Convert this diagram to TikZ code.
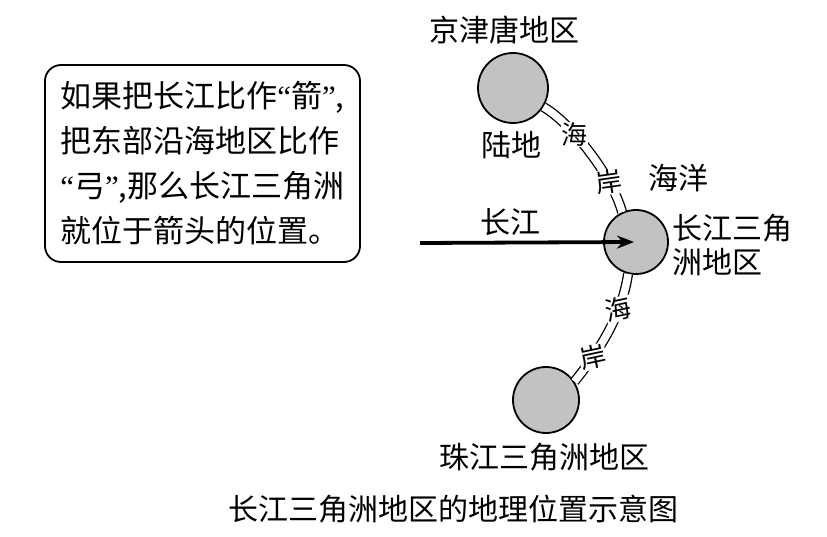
\documentclass[tikz,border=0pt]{standalone}
\usepackage{fontspec}
\newfontfamily\cjk{Noto Sans CJK SC}
\newfontfamily\qfont{Liberation Serif}
\newcommand{\openq}{{\qfont “}}
\newcommand{\closeq}{{\qfont ”}}
\usetikzlibrary{arrows.meta}

\tikzset{
  land/.style={circle, draw=black, line width=1.8pt, fill=gray!48, inner sep=0pt},
  coast/.style={double=white, double distance=7.5pt, line width=1.3pt},
  coastch/.style={fill=white, inner sep=0.5pt, font=\cjk\fontsize{26}{26}\selectfont},
  lbl/.style={font=\cjk\fontsize{30}{34}\selectfont, inner sep=0pt},
  river/.style={line width=3.8pt, -{Stealth[length=17pt,width=13pt]}}
}

\begin{document}
\begin{tikzpicture}[x=1pt, y=1pt]

  \useasboundingbox (0,0) rectangle (827,-537);

  % note box
  \node[draw, line width=1.8pt, rounded corners=16pt, minimum width=315pt, minimum height=197pt,
        align=left, inner sep=12pt, font=\cjk\fontsize{31}{45}\selectfont] (note) at (202.5,-163.5)
    {如果把长江比作\openq 箭\closeq,\\把东部沿海地区比作\\\openq 弓\closeq,那么长江三角洲\\就位于箭头的位置。};

  % land areas
  \node[land, minimum size=70pt] (jjt) at (513,-88) {};
  \node[land, minimum size=64pt] (csj) at (636,-242) {};
  \node[land, minimum size=66pt] (zsj) at (546,-400) {};

  % coast lines
  \draw[coast] (jjt.-32) .. controls (570,-122) and (612,-175) .. (csj.115)
    node[coastch, pos=0.35, rotate=0] (hai1) {海}
    node[coastch, pos=0.75, rotate=8] (an1) {岸};
  \draw[coast] (csj.-104) .. controls (622,-315) and (600,-350) .. (zsj.33)
    node[coastch, pos=0.3, rotate=12] (hai2) {海}
    node[coastch, pos=0.75, rotate=12] (an2) {岸};

  % river arrow
  \coordinate (cjsrc) at (420,-243);
  \draw[river] (cjsrc) -- ([xshift=-2pt]csj.center);

  % labels
  \node[lbl] (jjtlbl) at (504,-30) {京津唐地区};
  \node[lbl] (ludi) at (511,-145) {陆地};
  \node[lbl] (haiyang) at (678,-178) {海洋};
  \node[lbl] (cjlbl) at (510,-222) {长江};
  \node[lbl, align=left, anchor=west] (csjlbl) at (672,-245) {长江三角\\洲地区};
  \node[lbl] (zsjlbl) at (544,-457) {珠江三角洲地区};

  % caption
  \node[lbl] (caption) at (453,-509) {长江三角洲地区的地理位置示意图};

\end{tikzpicture}
\end{document}
